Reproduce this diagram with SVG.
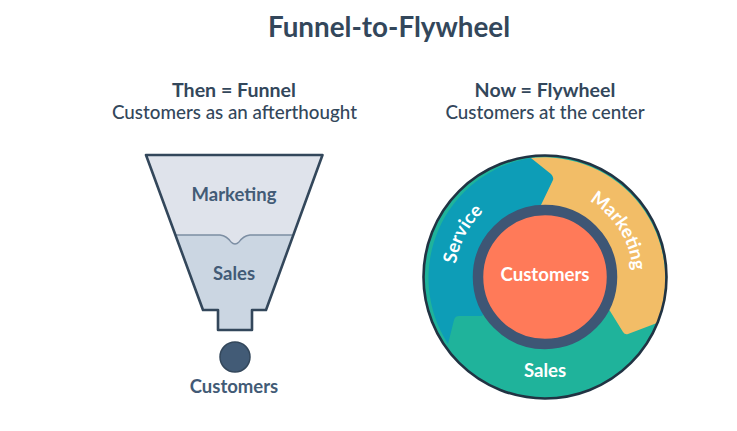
<svg xmlns="http://www.w3.org/2000/svg" width="737" height="431" viewBox="0 0 737 431">
<style>
text{font-family:Lato,"Noto Sans","Liberation Sans",sans-serif;text-anchor:middle}
.d{fill:#33475b}
.t{font-size:27.8px;font-weight:700}
.h{font-size:19.6px;font-weight:700}
.s{font-size:18.8px;font-weight:500}
.f{font-size:18.5px;font-weight:700;fill:#425b76}
.w{font-size:18.6px;font-weight:700;fill:#fff}
.line{stroke:#33475b;stroke-width:2.6;stroke-linejoin:round}
</style>
<defs>
<path id="arcService" d="M460.400 307.800A90 90 0 0 1 521.700 190.100"/>
<path id="arcMarketing" d="M557.200 189.900A88 88 0 0 1 628.700 304.200"/>
</defs>
<rect width="737" height="431" fill="#fff"/>
<text x="389" y="37" class="t d">Funnel-to-Flywheel</text>
<g id="funnel-heading">
<text x="234" y="97" class="h d">Then = Funnel</text>
<text x="234.500" y="119" class="s d">Customers as an afterthought</text>
</g>
<g id="flywheel-heading">
<text x="545" y="97" class="h d">Now = Flywheel</text>
<text x="545" y="119" class="s d">Customers at the center</text>
</g>
<g id="funnel-marketing">
<path d="M146 155H322.500L292 235H250Q243 236 239 242Q235 246 231 242Q227 236 220 235H176Z" fill="#dfe3eb"/>
<text x="234" y="201" class="f">Marketing</text>
</g>
<g id="funnel-sales">
<path d="M176 235H220Q227 236 231 242Q235 246 239 242Q243 236 250 235H292L266 310H252V330H218V310H203Z" fill="#cbd6e2"/>
<text x="234" y="280" class="f">Sales</text>
</g>
<g id="funnel-outline">
<path d="M176 235H220Q227 236 231 242Q235 246 239 242Q243 236 250 235H292" fill="none" stroke="#7c8ea3" stroke-width="1.3"/>
<path class="line" d="M146 155H322.500L266 310H252V330H218V310H203Z" fill="none"/>
</g>
<g id="funnel-customers">
<circle cx="235" cy="357" r="15" fill="#425b76" stroke="#33475b" stroke-width="1.500"/>
<text x="234" y="393" class="f">Customers</text>
</g>
<g id="flywheel-sales">
<circle cx="545" cy="277" r="121.500" fill="#1fb39b"/>
<text x="545" y="377" class="w">Sales</text>
</g>
<g id="flywheel-service">
<path d="M531 158A121.500 121.500 0 0 0 448 344L454 320Q455 316 459 316H482L542 205L553 180Q554 177 551 174Z" fill="#0d9db7"/>
<text class="w"><textPath href="#arcService" startOffset="50%">Service</textPath></text>
</g>
<g id="flywheel-marketing">
<path d="M531 158A121.500 121.500 0 0 1 657 323L628 334Q625 335 623 332L610 311L541 205L553 180Q554 177 551 174Z" fill="#f2bd67"/>
<text class="w"><textPath href="#arcMarketing" startOffset="50%">Marketing</textPath></text>
</g>
<g id="flywheel-rim">
<circle cx="545" cy="277" r="121.500" fill="none" stroke="#213343" stroke-width="2.600"/>
</g>
<g id="flywheel-customers">
<circle cx="545" cy="277" r="67" fill="#ff7a59" stroke="#3e5675" stroke-width="10.500"/>
<text x="545" y="281" class="w">Customers</text>
</g>
</svg>
